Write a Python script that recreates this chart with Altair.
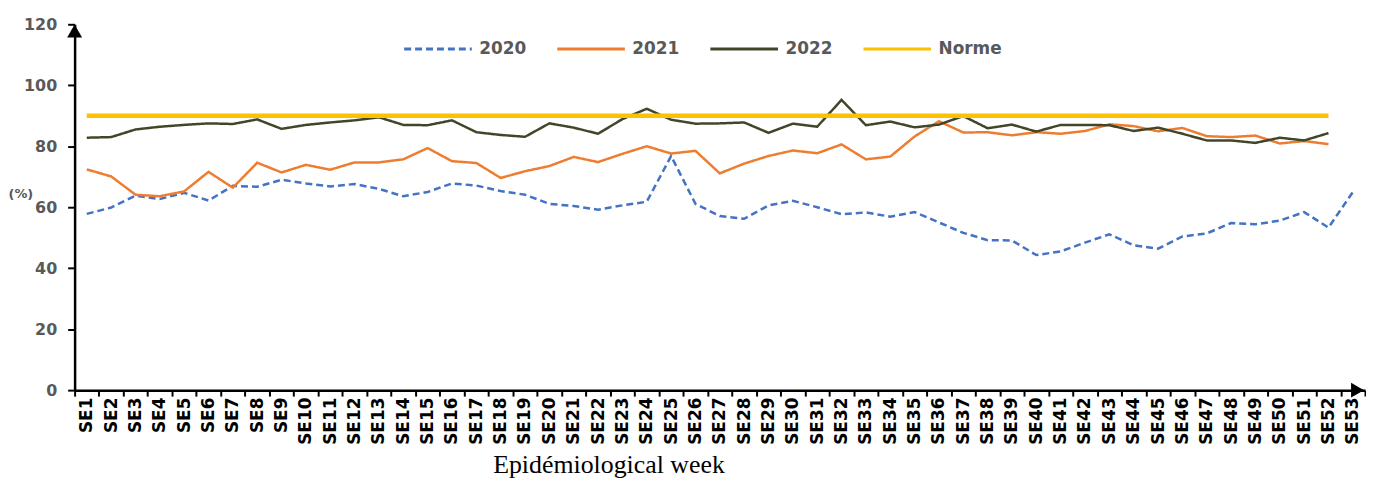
import altair as alt
import pandas as pd

weeks = [f"SE{i}" for i in range(1, 54)]

y2020 = [57.8, 59.9, 63.8, 62.7, 64.7, 62.2, 67.0, 66.7, 69.0, 67.8, 66.8, 67.6, 66.0,
         63.6, 65.0, 67.8, 67.1, 65.3, 64.1, 61.1, 60.4, 59.2, 60.6, 61.8, 76.8, 61.1,
         57.1, 56.2, 60.6, 62.1, 60.0, 57.7, 58.3, 56.9, 58.4, 55.0, 51.6, 49.2, 49.1,
         44.3, 45.5, 48.4, 51.1, 47.5, 46.4, 50.4, 51.4, 54.8, 54.4, 55.6, 58.4, 53.3, 65.0]
y2021 = [72.4, 70.1, 64.1, 63.6, 65.2, 71.6, 66.4, 74.6, 71.4, 73.9, 72.3, 74.7, 74.7,
         75.7, 79.4, 75.1, 74.5, 69.6, 71.8, 73.5, 76.5, 74.8, 77.5, 80.0, 77.6, 78.5,
         71.1, 74.3, 76.8, 78.6, 77.7, 80.6, 75.7, 76.6, 83.2, 88.2, 84.5, 84.6, 83.6,
         84.6, 84.1, 85.0, 87.2, 86.6, 84.9, 86.0, 83.3, 83.0, 83.5, 80.9, 81.7, 80.7]
y2022 = [82.8, 83.0, 85.5, 86.4, 87.0, 87.5, 87.3, 88.8, 85.7, 87.0, 87.8, 88.5, 89.5,
         87.0, 86.9, 88.5, 84.6, 83.7, 83.1, 87.5, 86.1, 84.1, 88.9, 92.3, 88.7, 87.4,
         87.5, 87.8, 84.4, 87.4, 86.4, 95.2, 86.9, 88.1, 86.2, 87.1, 89.9, 85.9, 87.1,
         84.8, 87.0, 87.0, 86.9, 85.0, 86.1, 84.1, 81.9, 81.9, 81.1, 82.8, 81.9, 84.3]
norme = [90] * 52

series = ["2020", "2021", "2022", "Norme"]
colors = ["#4472C4", "#ED7D31", "#424628", "#FFC000"]
dashes = [[7, 4], [1, 0], [1, 0], [1, 0]]

rows = []
for name, vals in zip(series[:3], [y2020, y2021, y2022]):
    for w, v in zip(weeks, vals):
        rows.append({"week": w, "serie": name, "value": v})
df = pd.DataFrame(rows)
df_norme = pd.DataFrame({"week": weeks[:52], "serie": "Norme", "value": norme})

W = 1298
H = 368

x_enc = alt.X(
    "week:N",
    sort=weeks,
    bandPosition=0.5,
    scale=alt.Scale(type="band", domain=weeks, paddingInner=0, paddingOuter=0),
    axis=alt.Axis(
        title="Epidémiological week",
        titleFont="Liberation Serif", titleFontSize=26, titleFontWeight="normal",
        titleColor="#000000", titleX=537, titleY=83, titleAlign="center",
        titleBaseline="alphabetic",
        labelAngle=-90, labelAlign="right", labelBaseline="middle",
        labelFont="DejaVu Sans", labelFontWeight="bold", labelFontSize=17,
        labelColor="#000000", labelPadding=1,
        tickBand="extent", tickSize=6, tickWidth=2, tickColor="#000000",
        domainColor="#000000", domainWidth=2.5, grid=False,
    ),
)

y_enc = alt.Y(
    "value:Q",
    scale=alt.Scale(domain=[0, 120], nice=False),
    axis=alt.Axis(
        values=[0, 20, 40, 60, 80, 100, 120],
        title="(%)", titleAngle=0, titleX=-67, titleY=170, titleAlign="left",
        titleBaseline="middle", titleFont="DejaVu Sans", titleFontSize=13,
        titleFontWeight="bold", titleColor="#595959",
        labelFont="DejaVu Sans", labelFontWeight="bold", labelFontSize=16,
        labelColor="#595959", labelPadding=11,
        tickSize=7, tickWidth=2, tickColor="#000000",
        domainColor="#000000", domainWidth=2.5, grid=False,
    ),
)

color_enc = alt.Color(
    "serie:N", scale=alt.Scale(domain=series, range=colors), sort=series,
    legend=alt.Legend(
        title=None, orient="none", legendX=330, legendY=-11,
        direction="horizontal", symbolType="stroke",
        symbolSize=4624, labelOffset=6, columnPadding=24,
        symbolStrokeWidth=3,
        labelFont="DejaVu Sans", labelFontWeight="bold",
        labelFontSize=17, labelColor="#595959",
    ))

lines = alt.Chart(df).mark_line(strokeWidth=2.5).encode(
    x=x_enc,
    y=y_enc,
    color=color_enc,
    strokeDash=alt.StrokeDash("serie:N", scale=alt.Scale(domain=series, range=dashes),
                              sort=series),
)

norme_line = alt.Chart(df_norme).mark_line(strokeWidth=4.5).encode(
    x=x_enc,
    y=y_enc,
    color=color_enc,
)

arrow_df = pd.DataFrame({"a": [0]})
y_arrow = alt.Chart(arrow_df).mark_point(
    shape="triangle-up", filled=True, color="#000000", size=225, opacity=1, yOffset=6.7
).encode(x=alt.value(0), y=alt.datum(120))
x_arrow = alt.Chart(arrow_df).mark_point(
    shape="triangle-right", filled=True, color="#000000", size=225, opacity=1
).encode(x=alt.value(W - 7.5), y=alt.value(H))

chart = alt.layer(lines, norme_line, y_arrow, x_arrow).properties(
    width=W, height=H,
    padding={"left": 0, "top": 4, "right": 0, "bottom": 0},
    background="#ffffff",
).configure_view(stroke=None)

chart.save("out.html", embed_options={"renderer": "svg", "actions": False})
